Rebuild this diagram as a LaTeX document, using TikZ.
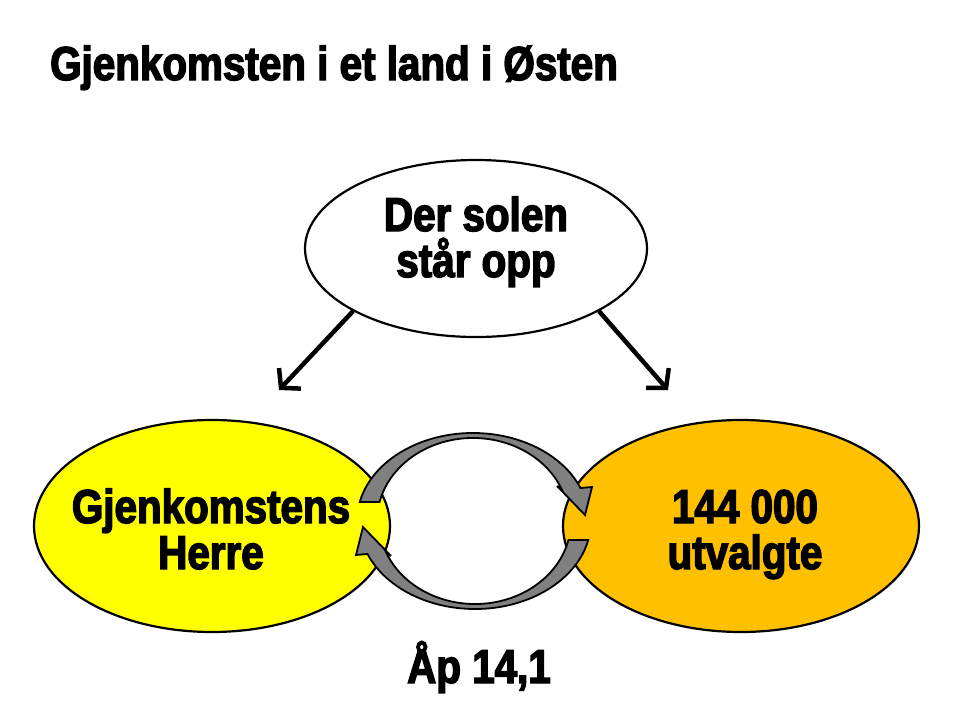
\documentclass[tikz,border=0pt]{standalone}
\usepackage{fontspec}
\setmainfont{Liberation Sans}[FakeStretch=0.85, BoldFeatures={FakeBold=3}]
\usetikzlibrary{arrows.meta,shapes.geometric}
\definecolor{ylw}{HTML}{FFFF00}
\definecolor{org}{HTML}{FFC000}
\definecolor{cyc}{HTML}{808080}
\tikzset{
  bub/.style={ellipse, draw=black, line width=2.2pt, inner sep=0pt},
  lbl/.style={font=\fontsize{47.5}{46}\selectfont\bfseries, align=center, inner sep=0pt},
  conn/.style={line width=4.5pt, -{Straight Barb[length=13pt,width=30pt]}},
  cycarrow/.style={fill=cyc, draw=black, line width=1.8pt, line join=miter},
}
\begin{document}
\begin{tikzpicture}[x=1pt,y=-1pt]
\useasboundingbox (0,0) rectangle (960,720);
\fill[white] (0,0) rectangle (960,720);
\node[bub, fill=white, minimum width=342pt, minimum height=177pt] (top) at (476,248.5) {};
\node[bub, fill=ylw, minimum width=356pt, minimum height=212pt] (lft) at (212,526) {};
\node[bub, fill=org, minimum width=356pt, minimum height=212pt] (rgt) at (741,526) {};
% cycle arrows
\path[cycarrow] (359.75,501.95) arc[start angle=-167.5, end angle=-22, x radius=116, y radius=88]
  -- (592,487) -- (585,515) -- (557,486) -- (562,489.9)
  arc[start angle=-22, end angle=-166.8, x radius=96, y radius=83] -- cycle;
\begin{scope}[rotate around={180:(474,521)}]
\path[cycarrow] (359.75,501.95) arc[start angle=-167.5, end angle=-22, x radius=116, y radius=88]
  -- (592,487) -- (585,515) -- (557,486) -- (562,489.9)
  arc[start angle=-22, end angle=-166.8, x radius=96, y radius=83] -- cycle;
\end{scope}
% connectors
\coordinate (la) at (279,390);
\coordinate (ra) at (668,390);
\draw[conn] (top.207) -- (la);
\draw[conn] (top.333) -- (ra);
% texts
\node[lbl, anchor=base west] (ttl) at (50,80) {Gjenkomsten i et land i Østen};
\node[lbl, anchor=base] (ttop) at (476,277) {Der solen\\står opp};
\node[lbl, anchor=base] (tlft) at (211,569) {Gjenkomstens\\Herre};
\node[lbl, anchor=base] (trgt) at (745,569) {144 000\\utvalgte};
\node[lbl, anchor=base] (tref) at (479,683) {Åp 14,1};
\end{tikzpicture}
\end{document}
